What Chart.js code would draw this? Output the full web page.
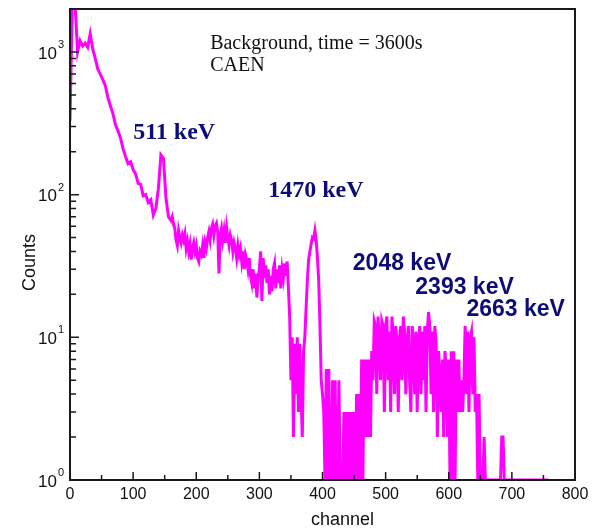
<!DOCTYPE html>
<html>
<head>
<meta charset="utf-8">
<script src="https://cdn.jsdelivr.net/npm/chart.js@4.4.0/dist/chart.umd.min.js"></script>
<style>
    html, body { margin: 0; padding: 0; background: #fff; }
</style>
</head>
<body>
<canvas id="spectrum" width="599" height="532"></canvas>
<script>
// counts
// channels 0..156, one value every 4 channels
var lowStep = 4;
var countsLow = [
    330, 2600, 2200, 1000, 1200, 1100, 1150, 1080, 1340, 1050,
    900, 760, 700, 640, 580, 480, 420, 370, 310, 280,
    250, 210, 185, 165, 170, 150, 140, 120, 118, 98,
    100, 88, 92, 72, 80, 110, 190, 180, 95, 70
];
// channels 160..758, one value every 2 channels
var highStart = 160;
var highStep = 2;
var countsHigh = [
    66, 70, 62, 58, 48, 44, 56, 50, 46, 52,
    48, 53, 42, 47, 40, 45, 35, 42, 46, 40,
    44, 36, 34, 40, 38, 44, 36, 46, 42, 50,
    55, 48, 58, 62, 52, 60, 63, 55, 28, 52,
    58, 48, 56, 46, 59, 50, 44, 52, 48, 40,
    46, 42, 36, 44, 38, 42, 34, 40, 30, 38,
    35, 30, 36, 27, 24, 30, 22, 28, 19, 26,
    30, 40, 18, 36, 26, 32, 24, 30, 20, 27,
    21, 30, 33, 22, 30, 24, 32, 22, 30, 26,
    33, 27, 34, 22, 14, 5, 10, 2, 9, 4,
    10, 3, 9, 4, 2, 8, 10, 16, 25, 35,
    40, 45, 50, 49, 56, 48, 36, 25, 12, 5,
    4, 3, 1, 6, 1, 6, 1, 1, 5, 1,
    5, 1, 1, 5, 1, 1, 1, 3, 1, 3,
    1, 3, 1, 3, 1, 3, 1, 4, 1, 4,
    1, 7, 1, 7, 2, 7, 2, 7, 2, 8,
    5, 13, 12, 4, 14, 9, 5, 13, 12, 3,
    12, 14, 5, 11, 3, 14, 10, 4, 12, 9,
    3, 10, 12, 5, 14, 11, 4, 9, 12, 5,
    3, 12, 9, 4, 11, 3, 9, 12, 4, 11,
    5, 12, 3, 11, 15, 12, 4, 11, 3, 12,
    9, 2, 8, 5, 3, 7, 2, 8, 6, 2,
    7, 1, 8, 1, 8, 1, 7, 3, 7, 3,
    5, 3, 5, 12, 4, 11, 3, 10, 11, 4,
    10, 3, 4, 1, 4, 1, 1, 1, 2, 1,
    1, 1, 1, 1, 1, 1, 1, 1, 1, 1,
    1, 1, 2, 2, 1, 1, 1, 1, 1, 1,
    1, 1, 1, 1, 1, 1, 1, 1, 1, 1,
    1, 1, 1, 1, 1, 1, 1, 1, 1, 1,
    1, 1, 1, 1, 1, 1, 1, 1, 1, 1
];

// axis ticks
var xTicks = [0, 50, 100, 150, 200, 250, 300, 350, 400, 450, 500, 550, 600, 650, 700, 750, 800];
var xTickLabels = ['0', '', '100', '', '200', '', '300', '', '400', '', '500', '', '600', '', '700', '', '800'];
var yDecades = [1, 10, 100, 1000];
var yExponents = ['0', '1', '2', '3'];
var yMinorSteps = [2, 3, 4, 5, 6, 7, 8, 9];

// text on the plot
var peakLabels = ['511 keV', '1470 keV', '2048 keV', '2393 keV', '2663 keV'];
var infoLines = ['Background, time = 3600s', 'CAEN'];

// where the texts sit, in channel / counts
var peakLabelAt = [[100, 270], [314, 107], [448, 33], [547, 22.4], [628, 15.7]];
var peakLabelFont = ['bold 24px "Liberation Serif"', 'bold 24px "Liberation Serif"',
    'bold 23px "Liberation Sans"', 'bold 23px "Liberation Sans"', 'bold 23px "Liberation Sans"'];
var infoAt = [[222, 1150], [222, 800]];

var points = [];
countsLow.forEach(function (c, i) {
    points.push({ x: i * lowStep, y: c });
});
countsHigh.forEach(function (c, i) {
    points.push({ x: highStart + i * highStep, y: c });
});

var yTicks = [];
yDecades.forEach(function (d) {
    yTicks.push(d);
    yMinorSteps.forEach(function (m) {
        if (d * m <= 2000) yTicks.push(d * m);
    });
});

// frame, inward ticks, y labels and texts
var decorations = {
    id: 'decorations',
    afterDatasetsDraw: function (chart) {
        var ctx = chart.ctx;
        var area = chart.chartArea;
        var xs = chart.scales.x;
        var ys = chart.scales.y;
        ctx.save();

        ctx.strokeStyle = '#1a1a1a';
        ctx.lineWidth = 2;
        ctx.strokeRect(area.left, area.top, area.right - area.left, area.bottom - area.top);

        ctx.lineWidth = 1.5;
        ctx.beginPath();
        xTicks.forEach(function (v, i) {
            var px = xs.getPixelForValue(v);
            var len = xTickLabels[i] ? 8 : 5;
            ctx.moveTo(px, area.bottom);
            ctx.lineTo(px, area.bottom - len);
        });
        yTicks.forEach(function (v) {
            var py = ys.getPixelForValue(v);
            var len = yDecades.indexOf(v) >= 0 ? 9 : 6;
            ctx.moveTo(area.left, py);
            ctx.lineTo(area.left + len, py);
        });
        ctx.stroke();

        // y tick labels 10^n
        ctx.fillStyle = '#111';
        ctx.textBaseline = 'middle';
        yDecades.forEach(function (v, i) {
            var py = ys.getPixelForValue(v);
            ctx.font = '11px "Liberation Sans"';
            ctx.textAlign = 'right';
            ctx.fillText(yExponents[i], area.left - 6, py - 7);
            var ew = ctx.measureText(yExponents[i]).width;
            ctx.font = '17px "Liberation Sans"';
            ctx.fillText('10', area.left - 7 - ew, py + 2);
        });

        // axis titles
        ctx.font = '18px "Liberation Sans"';
        ctx.textAlign = 'center';
        ctx.fillText('channel', (area.left + area.right) / 2 + 20, area.bottom + 40);
        ctx.save();
        ctx.translate(30, (area.top + area.bottom) / 2 + 18);
        ctx.rotate(-Math.PI / 2);
        ctx.fillText('Counts', 0, 0);
        ctx.restore();

        // info text
        ctx.textAlign = 'left';
        ctx.font = '20px "Liberation Serif"';
        infoLines.forEach(function (t, i) {
            ctx.fillText(t, xs.getPixelForValue(infoAt[i][0]), ys.getPixelForValue(infoAt[i][1]));
        });

        // peak labels
        ctx.fillStyle = '#0d0d78';
        peakLabels.forEach(function (t, i) {
            ctx.font = peakLabelFont[i];
            ctx.fillText(t, xs.getPixelForValue(peakLabelAt[i][0]), ys.getPixelForValue(peakLabelAt[i][1]));
        });

        ctx.restore();
    }
};

var ctx = document.getElementById('spectrum').getContext('2d');
window.spectrumChart = new Chart(ctx, {
    type: 'line',
    data: {
        datasets: [{
            label: 'Background',
            data: points,
            borderColor: '#ff00ff',
            borderWidth: 3,
            pointRadius: 0,
            tension: 0,
            fill: false
        }]
    },
    options: {
        responsive: false,
        animation: false,
        devicePixelRatio: 1,
        layout: { padding: { top: 9, right: 24, left: 0, bottom: 0 } },
        plugins: {
            legend: { display: false },
            tooltip: { enabled: false }
        },
        scales: {
            x: {
                type: 'linear',
                min: 0,
                max: 800,
                grid: { display: false, drawTicks: false },
                border: { display: false },
                afterBuildTicks: function (axis) {
                    axis.ticks = xTicks.map(function (v) { return { value: v }; });
                },
                afterFit: function (axis) { axis.height = 52; },
                ticks: {
                    autoSkip: false,
                    maxRotation: 0,
                    padding: 5,
                    color: '#111',
                    font: { family: 'Liberation Sans', size: 16 },
                    callback: function (value) {
                        var i = xTicks.indexOf(value);
                        return i >= 0 ? xTickLabels[i] : '';
                    }
                }
            },
            y: {
                type: 'logarithmic',
                min: 1,
                max: 2000,
                grid: { display: false, drawTicks: false },
                border: { display: false },
                afterBuildTicks: function (axis) {
                    axis.ticks = yTicks.map(function (v) { return { value: v }; });
                },
                afterFit: function (axis) { axis.width = 70; },
                ticks: { display: false }
            }
        }
    },
    plugins: [decorations]
});
</script>
</body>
</html>
